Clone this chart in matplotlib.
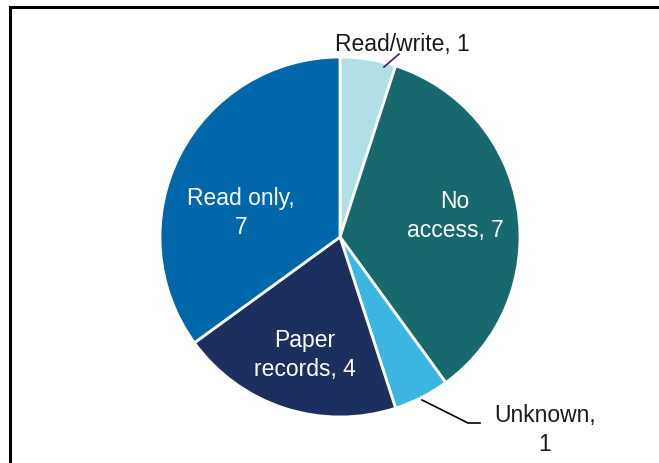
import matplotlib
matplotlib.use('Agg')
import matplotlib.pyplot as plt
from matplotlib.lines import Line2D

# slices, clockwise from 12 o'clock
labels = ['Read/write', 'No access', 'Unknown', 'Paper records', 'Read only']
counts = [1, 7, 1, 4, 7]
colors = ['#B0DFE5', '#17696E', '#3BB6E0', '#1C2F5E', '#0067AA']

plt.rcParams['font.family'] = ['Liberation Sans', 'DejaVu Sans']

W, H = 659, 464
fig = plt.figure(figsize=(W/100, H/100), dpi=100)
ax = fig.add_axes([0, 0, 1, 1])

cx, cy, r = 340, H - 238, 180
ax.pie(counts, colors=colors, startangle=90, counterclock=False,
       center=(cx, cy), radius=r, frame=True,
       wedgeprops=dict(edgecolor='white', linewidth=2))
ax.set_xlim(0, W)
ax.set_ylim(0, H)
ax.set_aspect('equal')
ax.axis('off')

fs = 16.5
ls = 1.3
# inside labels
ax.text(241, H - 213, f'Read only,\n{counts[4]}', color='white', fontsize=fs,
        ha='center', va='center', linespacing=ls)
ax.text(455, H - 216, f'No\naccess, {counts[1]}', color='white', fontsize=fs,
        ha='center', va='center', linespacing=ls)
ax.text(305, H - 355, f'Paper\nrecords, {counts[3]}', color='white', fontsize=fs,
        ha='center', va='center', linespacing=ls)

# outside labels with leader lines
ax.text(402, H - 44, f'{labels[0]}, {counts[0]}', color='#1a1a1a', fontsize=fs,
        ha='center', va='center')
ax.plot([384, 399], [H - 68, H - 55], color='#4B1A6B', lw=1.2)
ax.text(545, H - 430, f'{labels[2]},\n{counts[2]}', color='#1a1a1a', fontsize=fs,
        ha='center', va='center', linespacing=ls)
ax.plot([422, 468, 480], [H - 401, H - 424, H - 424], color='black', lw=1.2)

# frame (top and left edges visible)
fig.add_artist(Line2D([10/W, 10/W], [0, 1 - 8/H], transform=fig.transFigure,
                      color='black', lw=2.2))
fig.add_artist(Line2D([10/W, 1], [1 - 8/H, 1 - 8/H], transform=fig.transFigure,
                      color='black', lw=2.2))

fig.savefig('out.png', dpi=100)
